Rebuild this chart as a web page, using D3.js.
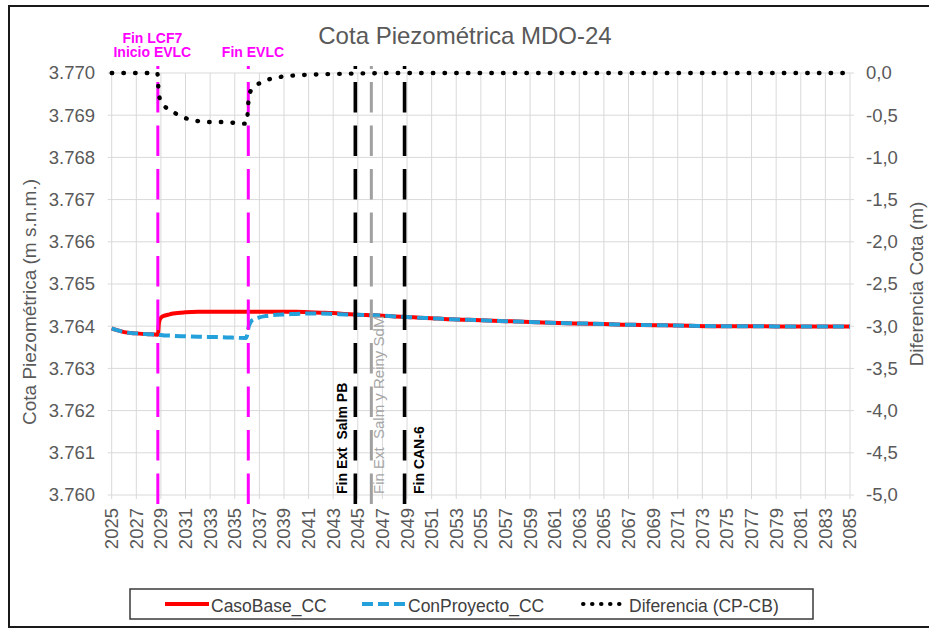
<!DOCTYPE html>
<html><head><meta charset="utf-8">
<script src="https://cdn.jsdelivr.net/npm/d3@7"></script>
<style>
body{margin:0;background:#fff;}
svg{display:block;font-family:"Liberation Sans",Arial,sans-serif;}
</style></head>
<body>
<svg id="chart" width="929" height="630"></svg>
<script>
// ---- data ----
const chartTitle = "Cota Piezométrica MDO-24";
const leftTitle = "Cota Piezométrica (m s.n.m.)";
const rightTitle = "Diferencia Cota (m)";
const xTickYears = d3.range(2025, 2086, 2);
const leftTicks = d3.range(3760, 3771, 1);
const rightTicks = d3.range(-5, 0.01, 0.5);

const curveYears = [2025,2025.5,2026,2027,2028,2028.7,2028.75,2028.85,2029,2029.3,2029.7,2030,2031,2032,2034,2035.9,2036,2036.1,2036.3,2036.6,2037,2037.5,2038,2039,2040,2041,2042,2043,2044,2045,2046,2047,2048,2049,2050,2051,2052,2053,2054,2055,2056,2057,2058,2059,2060,2062,2064,2065,2066,2068,2070,2072,2075,2078,2080,2082,2085];
const casoBase = [3763.95,3763.90,3763.86,3763.83,3763.81,3763.80,3763.80,3764.10,3764.20,3764.25,3764.28,3764.30,3764.33,3764.34,3764.34,3764.34,3764.34,3764.34,3764.34,3764.34,3764.34,3764.34,3764.34,3764.34,3764.34,3764.33,3764.32,3764.31,3764.29,3764.27,3764.26,3764.25,3764.23,3764.22,3764.20,3764.19,3764.17,3764.16,3764.15,3764.14,3764.13,3764.12,3764.11,3764.10,3764.09,3764.07,3764.06,3764.05,3764.04,3764.03,3764.02,3764.01,3764.00,3764.00,3763.99,3763.99,3763.99];
const conProyecto = [3763.95,3763.90,3763.86,3763.83,3763.81,3763.80,3763.80,3763.79,3763.79,3763.78,3763.78,3763.77,3763.76,3763.75,3763.74,3763.72,3763.78,3763.95,3764.10,3764.17,3764.21,3764.24,3764.26,3764.28,3764.29,3764.30,3764.30,3764.29,3764.28,3764.27,3764.26,3764.25,3764.23,3764.22,3764.20,3764.19,3764.17,3764.16,3764.15,3764.14,3764.13,3764.12,3764.11,3764.10,3764.09,3764.07,3764.06,3764.05,3764.04,3764.03,3764.02,3764.01,3764.00,3764.00,3763.99,3763.99,3763.99];

const diffYears = [2025,2028.7,2028.75,2028.8,2028.9,2029.1,2029.5,2030.2,2030.9,2031.7,2032.5,2033.3,2034.1,2034.9,2035.8,2036.0,2036.05,2036.1,2036.2,2036.65,2037.3,2038.1,2038.8,2039.6,2041.1,2043.6,2048.4,2085];
const diffValues = [0,0,-0.05,-0.2,-0.3,-0.36,-0.42,-0.48,-0.53,-0.56,-0.58,-0.58,-0.58,-0.59,-0.60,-0.60,-0.47,-0.36,-0.24,-0.16,-0.10,-0.063,-0.044,-0.032,-0.02,-0.01,0,0];

const eventYears = [2028.75, 2036.1, 2044.8, 2046.1, 2048.8];
const eventColors = ["#ff00ff", "#ff00ff", "#000000", "#a0a0a0", "#000000"];
const eventWidths = [3, 3, 3.6, 3, 3.6];

const topLabels = [["Fin LCF7","Inicio EVLC"], ["Fin EVLC"]];
const topLabelEvents = [0, 1];
const sideLabels = ["Fin Ext  Salm PB", "Fin Ext  Salm y Reiny SdM", "Fin CAN-6"];
const sideLabelEvents = [2, 3, 4];
const sideLabelColors = ["#000000", "#a6a6a6", "#000000"];
const sideLabelWeights = ["bold", "normal", "bold"];

const legendNames = ["CasoBase_CC", "ConProyecto_CC", "Diferencia (CP-CB)"];

// ---- setup ----
const svg = d3.select("#chart");
const W = 929, H = 630;
const plot = {left: 111.7, right: 850, top: 73, bottom: 495};
const x = d3.scaleLinear().domain([2025, 2085]).range([plot.left, plot.right]);
const yL = d3.scaleLinear().domain([3760, 3770]).range([plot.bottom, plot.top]);
const yR = d3.scaleLinear().domain([-5, 0]).range([plot.bottom, plot.top]);
const loc = d3.formatLocale({decimal: ",", thousands: ".", grouping: [3], currency: ["$",""], minus: "-"});
const fmtL = loc.format(",.0f");
const fmtR = loc.format(".1f");

svg.append("rect").attr("width", W).attr("height", H).attr("fill", "#fff");
// outer frame
svg.append("path").attr("d", "M929,6H9V627H929").attr("fill", "none").attr("stroke", "#1a1a1a").attr("stroke-width", 2);

// gridlines
const grid = svg.append("g").attr("stroke", "#d9d9d9").attr("stroke-width", 1);
grid.selectAll("line.v").data(xTickYears).join("line")
  .attr("x1", d => x(d)).attr("x2", d => x(d))
  .attr("y1", plot.top).attr("y2", plot.bottom + 4);
grid.selectAll("line.h").data(leftTicks).join("line")
  .attr("x1", plot.left - 4).attr("x2", plot.right + 4)
  .attr("y1", d => yL(d)).attr("y2", d => yL(d));

// axes labels
const tickCol = "#595959";
svg.append("g").selectAll("text").data(leftTicks).join("text")
  .attr("x", 95).attr("y", d => yL(d)).attr("dy", "0.35em")
  .attr("text-anchor", "end").attr("font-size", 18.5).attr("fill", tickCol)
  .text(d => fmtL(d));
svg.append("g").selectAll("text").data(rightTicks).join("text")
  .attr("x", 866).attr("y", d => yR(d)).attr("dy", "0.35em")
  .attr("text-anchor", "start").attr("font-size", 18.5).attr("fill", tickCol)
  .text(d => fmtR(d));
svg.append("g").selectAll("text").data(xTickYears).join("text")
  .attr("transform", d => `translate(${x(d)},508) rotate(-90)`)
  .attr("dy", "0.35em").attr("text-anchor", "end")
  .attr("font-size", 18.5).attr("fill", tickCol)
  .text(d => d);

// titles
svg.append("text").attr("x", 465).attr("y", 44).attr("text-anchor", "middle")
  .attr("font-size", 24).attr("fill", tickCol).text(chartTitle);
svg.append("text").attr("transform", "translate(36,302) rotate(-90)")
  .attr("text-anchor", "middle").attr("font-size", 19).attr("fill", tickCol).text(leftTitle);
svg.append("text").attr("transform", "translate(923,284) rotate(-90)")
  .attr("text-anchor", "middle").attr("font-size", 19).attr("fill", tickCol).text(rightTitle);

// series
const pts = (xs, ys) => xs.map((t, i) => [t, ys[i]]);
const lineL = d3.line().x(d => x(d[0])).y(d => yL(d[1])).curve(d3.curveMonotoneX);
const lineR = d3.line().x(d => x(d[0])).y(d => yR(d[1])).curve(d3.curveMonotoneX);

svg.append("path").attr("d", lineL(pts(curveYears, casoBase)))
  .attr("fill", "none").attr("stroke", "#ff0000").attr("stroke-width", 4);
svg.append("path").attr("d", lineL(pts(curveYears, conProyecto)))
  .attr("fill", "none").attr("stroke", "#24a0da").attr("stroke-width", 4)
  .attr("stroke-dasharray", "11,5");

// event lines (drawn from bottom upwards)
const evTop = 66, evBottom = 504;
svg.append("g").selectAll("line").data(eventYears).join("line")
  .attr("x1", d => x(d)).attr("x2", d => x(d))
  .attr("y1", evBottom).attr("y2", evTop)
  .attr("stroke", (d, i) => eventColors[i]).attr("stroke-width", (d, i) => eventWidths[i])
  .attr("stroke-dasharray", "30.5,13");

// diff dotted
svg.append("path").attr("d", lineR(pts(diffYears, diffValues)))
  .attr("fill", "none").attr("stroke", "#000").attr("stroke-width", 4.4)
  .attr("stroke-linecap", "round").attr("stroke-dasharray", "0.5,11.2");

// top event labels
const tlOffsets = [-5.5, 4.7];
topLabels.forEach((lines, k) => {
  const cx = x(eventYears[topLabelEvents[k]]) + tlOffsets[k];
  const n = lines.length;
  lines.forEach((s, j) => {
    svg.append("text").attr("x", cx).attr("y", 57 - (n - 1 - j) * 14.5)
      .attr("text-anchor", "middle").attr("font-size", 14).attr("font-weight", "bold")
      .attr("fill", "#ff00ff").text(s);
  });
});

// side rotated labels
const slOffsets = [-8, 12.5, 19.5];
const slSizes = [14, 15, 14];
svg.append("g").selectAll("text").data(sideLabels).join("text")
  .attr("transform", (d, i) => `translate(${x(eventYears[sideLabelEvents[i]]) + slOffsets[i]},494) rotate(-90)`)
  .attr("text-anchor", "start").attr("font-size", (d, i) => slSizes[i])
  .attr("font-weight", (d, i) => sideLabelWeights[i])
  .attr("fill", (d, i) => sideLabelColors[i]).attr("xml:space", "preserve")
  .style("white-space", "pre")
  .text(d => d);

// legend
const lg = svg.append("g");
lg.append("rect").attr("x", 130).attr("y", 589).attr("width", 683).attr("height", 30)
  .attr("fill", "#fff").attr("stroke", "#3a3a3a").attr("stroke-width", 1.5);
const lgX = [165, 362, 583];
const lgStroke = ["#ff0000", "#24a0da", "#000"];
const lgDash = [null, "11,5", "0.5,8.5"];
const lgCap = ["butt", "butt", "round"];
legendNames.forEach((name, i) => {
  lg.append("line").attr("x1", lgX[i]).attr("x2", lgX[i] + 44).attr("y1", 604).attr("y2", 604)
    .attr("stroke", lgStroke[i]).attr("stroke-width", 4)
    .attr("stroke-dasharray", lgDash[i]).attr("stroke-linecap", lgCap[i]);
  lg.append("text").attr("x", lgX[i] + 46).attr("y", 612)
    .attr("font-size", 17.5).attr("fill", "#404040").text(name);
});
</script>
</body></html>
